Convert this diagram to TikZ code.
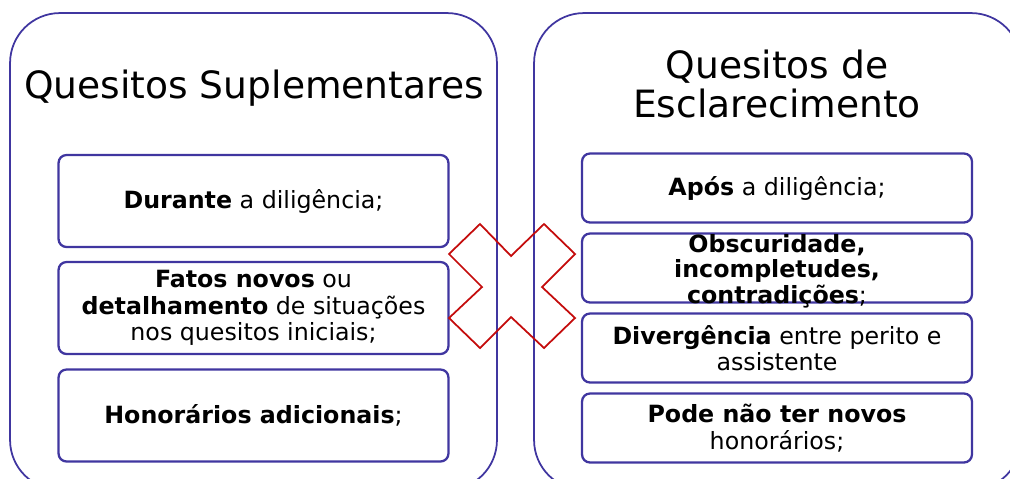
\documentclass[tikz,border=0pt]{standalone}
\usepackage{fontspec}
\setmainfont{DejaVu Sans}
\usetikzlibrary{shapes.geometric, arrows}
\definecolor{boxline}{RGB}{64,54,160}
\definecolor{crossred}{RGB}{196,12,12}
\tikzstyle{panel} = [rectangle, rounded corners=1cm, minimum width=9.74cm, minimum height=9.54cm, draw=boxline, line width=1pt]
\tikzstyle{title} = [text centered, align=center, font=\fontsize{21.4}{22}\selectfont]
\tikzstyle{lbox} = [rectangle, rounded corners=0.16cm, minimum width=7.8cm, minimum height=1.84cm, inner sep=0pt, draw=boxline, line width=1.3pt, align=center, font=\fontsize{13.5}{15}\selectfont]
\tikzstyle{rbox} = [lbox, minimum height=1.38cm]
\tikzstyle{cross} = [draw=crossred, line width=1pt, line join=miter]

\begin{document}
\begin{tikzpicture}[x=0.02cm, y=-0.02cm]
            \useasboundingbox (0,0) rectangle (1010,478);
            \clip (0,0) rectangle (1010,478);
            \node [panel] at (253.5,251.5) (left) {};
            \node [panel] at (777.5,251.5) (right) {};
            \node [title, anchor=base] at (254,98) (ltitle) {Quesitos Suplementares};
            \node [title] at (777,84) (rtitle) {Quesitos de\\Esclarecimento};
            \node [lbox] at (253.5,201) (l1) {\textbf{Durante} a diligência;};
            \node [lbox] at (253.5,308) (l2) {\textbf{Fatos novos} ou\\\textbf{detalhamento} de situações\\nos quesitos iniciais;};
            \node [lbox] at (253.5,415.5) (l3) {\textbf{Honorários adicionais};};
            \node [rbox] at (777,188) (r1) {\textbf{Após} a diligência;};
            \node [rbox] at (777,268) (r2) {};
            \node [align=center, inner sep=0pt, font=\fontsize{13.5}{14.5}\selectfont] at (777,271) (r2text) {\textbf{Obscuridade,}\\\textbf{incompletudes,}\\\textbf{contradições};};
            \node [rbox] at (777,348) (r3) {\textbf{Divergência} entre perito e\\assistente};
            \node [rbox] at (777,428) (r4) {\textbf{Pode não ter novos}\\honorários;};
            \draw [cross] (480,224) -- (511,256) -- (544,224) -- (575,254) -- (542,287) -- (575,318) -- (544,348) -- (511,317) -- (480,348) -- (449,318) -- (482,287) -- (449,254) -- cycle;
            \end{tikzpicture}
\end{document}
